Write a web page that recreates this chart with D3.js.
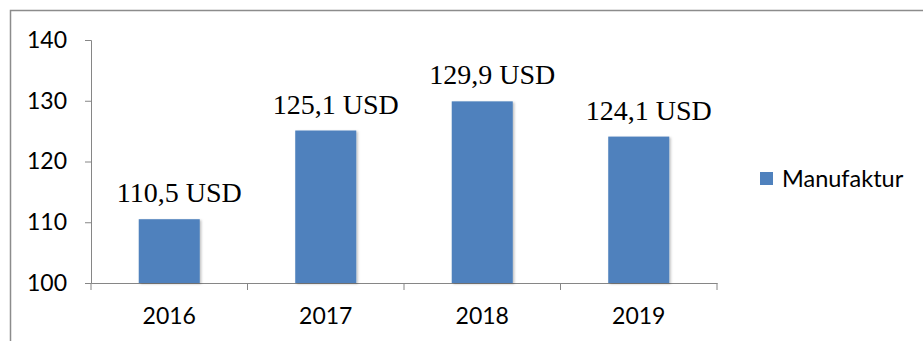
<!DOCTYPE html>
<html>
<head>
<meta charset="utf-8">
<script src="https://cdn.jsdelivr.net/npm/d3@7"></script>
<style>
  html, body { margin: 0; padding: 0; background: #fff; }
  svg { display: block; }
</style>
</head>
<body>
<div class="bar-chart"></div>
<script>
const years = ['2016', '2017', '2018', '2019'];
const manufaktur = [110.5, 125.1, 129.9, 124.1];
const valueLabels = ['110,5 USD', '125,1 USD', '129,9 USD', '124,1 USD'];
const yTicks = [100, 110, 120, 130, 140];
const seriesName = 'Manufaktur';

const width = 923, height = 341;
const margin = { top: 40, right: 206, bottom: 58, left: 91 };
const innerW = width - margin.left - margin.right;
const innerH = height - margin.top - margin.bottom;

const svg = d3.select('.bar-chart').append('svg')
  .attr('width', width)
  .attr('height', height);

// soft shadow like the office chart
const defs = svg.append('defs');
const f = defs.append('filter').attr('id', 'shadow')
  .attr('x', '-20%').attr('y', '-20%').attr('width', '140%').attr('height', '140%');
f.append('feDropShadow').attr('dx', 1.5).attr('dy', 1).attr('stdDeviation', 1.2)
  .attr('flood-color', '#000').attr('flood-opacity', 0.25);

// outer frame
svg.append('rect')
  .attr('x', 10.5).attr('y', 10.5)
  .attr('width', 940).attr('height', 360)
  .attr('fill', 'none')
  .attr('stroke', '#8c8c8c')
  .attr('stroke-width', 1.5);

const g = svg.append('g').attr('transform', 'translate(' + margin.left + ',' + margin.top + ')');

const x = d3.scaleBand()
  .domain(years)
  .range([0, innerW])
  .paddingInner(0.61)
  .paddingOuter(0.305);

const y = d3.scaleLinear()
  .domain([100, 140])
  .range([innerH, 0]);

const axisColor = '#868686';

// y axis
const yAxis = g.append('g')
  .call(d3.axisLeft(y).tickValues(yTicks).tickSize(6).tickPadding(18));
yAxis.select('.domain').attr('stroke', axisColor);
yAxis.selectAll('.tick line').attr('stroke', axisColor);
yAxis.selectAll('.tick text')
  .attr('font-family', 'Lato, "Noto Sans", sans-serif')
  .attr('font-size', 23)
  .attr('fill', '#000');

// x axis: labels centered, tick marks between categories
const xAxis = g.append('g')
  .attr('transform', 'translate(0,' + innerH + ')')
  .call(d3.axisBottom(x).tickSize(0).tickPadding(25).tickSizeOuter(0));
xAxis.select('.domain').attr('stroke', axisColor);
xAxis.selectAll('.tick text')
  .attr('font-family', 'Lato, "Noto Sans", sans-serif')
  .attr('font-size', 23)
  .attr('fill', '#000');

const bounds = d3.range(years.length + 1).map(i => i * x.step());
xAxis.selectAll('line.sep')
  .data(bounds)
  .enter().append('line')
  .attr('class', 'sep')
  .attr('x1', d => d).attr('x2', d => d)
  .attr('y1', 0).attr('y2', 7)
  .attr('stroke', axisColor);

// bars
g.append('g')
  .selectAll('rect')
  .data(manufaktur)
  .enter().append('rect')
  .attr('x', (d, i) => x(years[i]))
  .attr('y', d => y(d))
  .attr('width', x.bandwidth())
  .attr('height', d => innerH - y(d))
  .attr('fill', '#4f81bd')
  .attr('filter', 'url(#shadow)');

// value labels
g.append('g')
  .selectAll('text')
  .data(manufaktur)
  .enter().append('text')
  .attr('x', (d, i) => x(years[i]) + x.bandwidth() / 2 + 10)
  .attr('y', d => y(d) - 17)
  .attr('text-anchor', 'middle')
  .attr('font-family', '"Liberation Serif", "Times New Roman", serif')
  .attr('font-size', 28)
  .attr('fill', '#000')
  .text((d, i) => valueLabels[i]);

// legend
const legend = svg.append('g').attr('transform', 'translate(760,172)');
legend.append('rect')
  .attr('width', 13).attr('height', 13)
  .attr('fill', '#4f81bd');
legend.append('text')
  .attr('x', 22).attr('y', 7)
  .attr('dy', '0.35em')
  .attr('font-family', 'Lato, "Noto Sans", sans-serif')
  .attr('font-size', 23.5)
  .attr('fill', '#000')
  .text(seriesName);
</script>
</body>
</html>
